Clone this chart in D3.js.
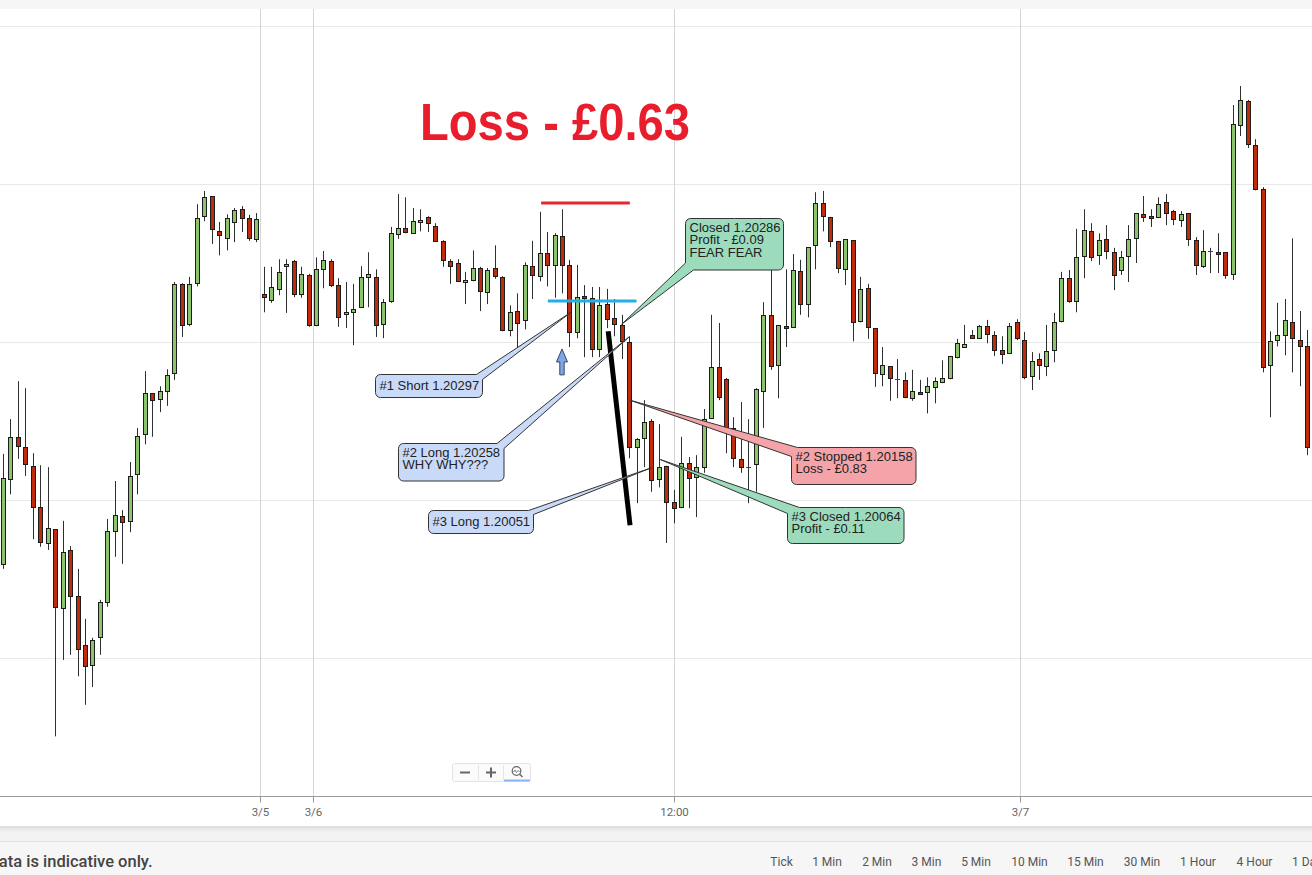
<!DOCTYPE html>
<html><head><meta charset="utf-8">
<script src="https://cdn.jsdelivr.net/npm/d3@7"></script>
<style>html,body{margin:0;padding:0;background:#fff;overflow:hidden}</style>
</head><body><svg id="c" width="1312" height="875"></svg>
<script>
// ---- data (EUR/USD 15-min candles) ----
const candleOpen=[1.19899,1.20033,1.20100,1.20084,1.20054,1.19989,1.19932,1.19954,1.19829,1.19921,1.19848,1.19770,1.19739,1.19782,1.19838,1.19951,1.19974,1.19967,1.20041,1.20104,1.20169,1.20160,1.20172,1.20201,1.20342,1.20278,1.20343,1.20449,1.20481,1.20425,1.20414,1.20440,1.20460,1.20446,1.20413,1.20326,1.20316,1.20334,1.20370,1.20378,1.20326,1.20356,1.20277,1.20365,1.20378,1.20340,1.20294,1.20297,1.20305,1.20353,1.20353,1.20278,1.20315,1.20421,1.20430,1.20422,1.20440,1.20448,1.20433,1.20410,1.20378,1.20375,1.20345,1.20348,1.20367,1.20329,1.20367,1.20353,1.20269,1.20299,1.20285,1.20370,1.20354,1.20391,1.20372,1.20418,1.20372,1.20266,1.20323,1.20320,1.20239,1.20310,1.20288,1.20277,1.20250,1.20084,1.20098,1.20125,1.20033,1.20054,1.19997,1.19989,1.20058,1.20036,1.20052,1.20130,1.20210,1.20191,1.20114,1.20065,1.20052,1.20057,1.20172,1.20293,1.20213,1.20275,1.20274,1.20362,1.20310,1.20403,1.20470,1.20448,1.20410,1.20365,1.20411,1.20283,1.20335,1.20272,1.20199,1.20212,1.20191,1.20190,1.20161,1.20171,1.20171,1.20179,1.20187,1.20193,1.20226,1.20243,1.20261,1.20256,1.20275,1.20261,1.20237,1.20232,1.20281,1.20253,1.20196,1.20223,1.20212,1.20237,1.20283,1.20351,1.20315,1.20386,1.20425,1.20388,1.20413,1.20392,1.20364,1.20386,1.20414,1.20452,1.20449,1.20448,1.20471,1.20457,1.20443,1.20454,1.20411,1.20370,1.20394,1.20392,1.20392,1.20357,1.20593,1.20631,1.20562,1.20492,1.20213,1.20253,1.20261,1.20281,1.20253,1.20244];
const candleHigh=[1.20073,1.20128,1.20188,1.20177,1.20074,1.20055,1.20052,1.19954,1.19967,1.19927,1.19891,1.19812,1.19782,1.19842,1.19970,1.20030,1.19984,1.20060,1.20114,1.20204,1.20169,1.20180,1.20207,1.20345,1.20343,1.20353,1.20468,1.20489,1.20481,1.20440,1.20452,1.20462,1.20465,1.20451,1.20454,1.20369,1.20369,1.20381,1.20381,1.20380,1.20369,1.20358,1.20384,1.20394,1.20381,1.20351,1.20345,1.20342,1.20370,1.20392,1.20365,1.20318,1.20432,1.20484,1.20479,1.20462,1.20460,1.20449,1.20438,1.20411,1.20381,1.20381,1.20361,1.20395,1.20369,1.20367,1.20403,1.20354,1.20308,1.20327,1.20376,1.20410,1.20456,1.20424,1.20422,1.20460,1.20380,1.20372,1.20340,1.20337,1.20337,1.20334,1.20318,1.20293,1.20259,1.20098,1.20158,1.20128,1.20120,1.20054,1.20016,1.20100,1.20068,1.20071,1.20144,1.20293,1.20280,1.20193,1.20131,1.20155,1.20128,1.20177,1.20313,1.20380,1.20277,1.20365,1.20389,1.20380,1.20400,1.20487,1.20489,1.20448,1.20410,1.20413,1.20411,1.20353,1.20342,1.20272,1.20242,1.20212,1.20223,1.20202,1.20206,1.20190,1.20194,1.20194,1.20221,1.20228,1.20255,1.20277,1.20269,1.20277,1.20285,1.20267,1.20259,1.20280,1.20286,1.20266,1.20234,1.20232,1.20277,1.20296,1.20361,1.20364,1.20429,1.20460,1.20438,1.20422,1.20435,1.20399,1.20394,1.20435,1.20454,1.20481,1.20460,1.20479,1.20484,1.20459,1.20457,1.20454,1.20416,1.20427,1.20399,1.20422,1.20392,1.20625,1.20655,1.20633,1.20571,1.20495,1.20267,1.20312,1.20318,1.20414,1.20299,1.20269];
const candleLow=[1.19891,1.20009,1.20065,1.20038,1.19938,1.19926,1.19921,1.19626,1.19747,1.19755,1.19721,1.19676,1.19704,1.19755,1.19831,1.19910,1.19899,1.19949,1.20009,1.20088,1.20100,1.20139,1.20149,1.20190,1.20258,1.20275,1.20338,1.20441,1.20405,1.20387,1.20395,1.20408,1.20424,1.20410,1.20408,1.20297,1.20312,1.20324,1.20296,1.20321,1.20320,1.20274,1.20275,1.20335,1.20337,1.20274,1.20272,1.20245,1.20304,1.20305,1.20258,1.20256,1.20312,1.20413,1.20422,1.20421,1.20425,1.20424,1.20410,1.20369,1.20342,1.20345,1.20310,1.20346,1.20299,1.20310,1.20350,1.20267,1.20259,1.20242,1.20270,1.20318,1.20346,1.20338,1.20320,1.20327,1.20242,1.20256,1.20226,1.20226,1.20226,1.20272,1.20259,1.20223,1.20066,1.19995,1.20052,1.20013,1.20020,1.19932,1.19963,1.19987,1.19987,1.19973,1.20043,1.20128,1.20158,1.20074,1.20052,1.20043,1.19995,1.20013,1.20114,1.20206,1.20161,1.20242,1.20272,1.20293,1.20289,1.20365,1.20425,1.20400,1.20359,1.20340,1.20251,1.20281,1.20255,1.20179,1.20180,1.20157,1.20161,1.20161,1.20157,1.20166,1.20137,1.20153,1.20185,1.20191,1.20224,1.20243,1.20256,1.20255,1.20248,1.20228,1.20215,1.20231,1.20253,1.20191,1.20174,1.20190,1.20196,1.20218,1.20281,1.20312,1.20297,1.20351,1.20378,1.20372,1.20381,1.20332,1.20356,1.20345,1.20375,1.20440,1.20432,1.20446,1.20435,1.20435,1.20432,1.20402,1.20356,1.20367,1.20359,1.20359,1.20350,1.20348,1.20576,1.20557,1.20490,1.20202,1.20131,1.20243,1.20229,1.20202,1.20180,1.20071];
const candleClose=[1.20035,1.20100,1.20085,1.20057,1.19989,1.19933,1.19956,1.19831,1.19918,1.19848,1.19764,1.19737,1.19778,1.19838,1.19951,1.19976,1.19965,1.20038,1.20101,1.20169,1.20158,1.20172,1.20198,1.20342,1.20277,1.20342,1.20446,1.20479,1.20429,1.20418,1.20446,1.20459,1.20446,1.20414,1.20444,1.20321,1.20337,1.20361,1.20373,1.20326,1.20358,1.20277,1.20365,1.20380,1.20340,1.20289,1.20297,1.20302,1.20353,1.20358,1.20277,1.20313,1.20422,1.20430,1.20424,1.20441,1.20443,1.20438,1.20410,1.20380,1.20370,1.20346,1.20348,1.20367,1.20331,1.20364,1.20354,1.20269,1.20297,1.20280,1.20372,1.20356,1.20391,1.20372,1.20419,1.20372,1.20266,1.20321,1.20320,1.20239,1.20308,1.20286,1.20278,1.20251,1.20084,1.20096,1.20123,1.20032,1.20052,1.19997,1.19987,1.20058,1.20035,1.20052,1.20128,1.20210,1.20163,1.20115,1.20066,1.20052,1.20053,1.20175,1.20293,1.20213,1.20277,1.20272,1.20364,1.20310,1.20400,1.20470,1.20449,1.20410,1.20367,1.20413,1.20281,1.20334,1.20274,1.20201,1.20213,1.20193,1.20192,1.20163,1.20172,1.20168,1.20180,1.20188,1.20193,1.20228,1.20248,1.20247,1.20256,1.20275,1.20262,1.20237,1.20231,1.20275,1.20255,1.20194,1.20220,1.20213,1.20236,1.20281,1.20351,1.20315,1.20384,1.20427,1.20384,1.20411,1.20394,1.20356,1.20384,1.20413,1.20454,1.20448,1.20446,1.20468,1.20454,1.20444,1.20452,1.20413,1.20372,1.20394,1.20394,1.20389,1.20356,1.20595,1.20633,1.20563,1.20493,1.20210,1.20251,1.20261,1.20285,1.20255,1.20244,1.20084];

const priceGrid=[1.1975,1.2000,1.2025,1.2050,1.2075];
const timeTickIndex=[34.48,41.59,90.03,136.45];
const timeTickLabel=["3/5","3/6","12:00","3/7"];

const titleText="Loss - £0.63";
const redLevel={price:1.20470,from:72.2,to:84.1};
const blueLevel={price:1.20315,from:73.1,to:85.0};
const trendLine={i0:81.2,p0:1.20267,i1:84.13,p1:1.19960};
const arrowMark={index:75,tip:1.20239,base:1.20198};

const calloutLines=[["#1 Short 1.20297"],["#2 Long 1.20258","WHY WHY???"],["#3 Long 1.20051"],["Closed 1.20286","Profit - £0.09","FEAR FEAR"],["#2 Stopped 1.20158","Loss - £0.83"],["#3 Closed 1.20064","Profit - £0.11"]];
const calloutTipIndex=[76.2,84.0,87.0,83.0,84.1,88.2];
const calloutTipPrice=[1.20297,1.20258,1.20051,1.20278,1.20158,1.20064];
const calloutKind=["entry","entry","entry","profit","loss","profit"];

const periodLabels=["Tick","1 Min","2 Min","3 Min","5 Min","10 Min","15 Min","30 Min","1 Hour","4 Hour","1 Day"];
const footerNote="Data is indicative only.";

// ---- drawing ----
const W=1312,H=875;
const svg=d3.select("#c");
const x=d3.scaleLinear().domain([0,candleOpen.length-1]).range([3,1307.3]);
const y=d3.scaleLinear().domain([1.1975,1.2075]).range([658,26]);
const axisY=796;

// top band
svg.append("rect").attr("x",0).attr("y",0).attr("width",W).attr("height",9).attr("fill","#f6f6f6");

// horizontal gridlines
svg.append("g").selectAll("line").data(priceGrid).join("line")
  .attr("x1",0).attr("x2",W)
  .attr("y1",d=>Math.round(y(d))+0.5).attr("y2",d=>Math.round(y(d))+0.5)
  .attr("stroke","#e8e8e8").attr("stroke-width",1);

// vertical gridlines
svg.append("g").selectAll("line").data(timeTickIndex).join("line")
  .attr("x1",d=>Math.round(x(d))+0.5).attr("x2",d=>Math.round(x(d))+0.5)
  .attr("y1",9).attr("y2",axisY)
  .attr("stroke","#d4d4d4").attr("stroke-width",1);

// x axis
const xAxis=d3.axisBottom(x).tickValues(timeTickIndex).tickFormat((d,i)=>timeTickLabel[i]).tickSize(6).tickSizeOuter(0);
const gx=svg.append("g").attr("transform",`translate(0,${axisY+0.5})`).call(xAxis);
gx.select(".domain").remove();
gx.selectAll(".tick line").attr("stroke","#999");
gx.selectAll(".tick text").attr("font-family","Roboto, 'Liberation Sans', sans-serif").attr("font-size",11.5).attr("fill","#666").attr("dy","0.95em");
svg.append("line").attr("x1",0).attr("x2",W).attr("y1",axisY+0.5).attr("y2",axisY+0.5).attr("stroke","#9a9a9a");

// candles
const candles=candleOpen.map((o,i)=>({i,o,h:candleHigh[i],l:candleLow[i],c:candleClose[i]}));
const gc=svg.append("g");
const cx=d=>Math.round(x(d.i));
gc.selectAll("line.wick").data(candles).join("line").attr("class","wick")
  .attr("x1",d=>cx(d)+0.5).attr("x2",d=>cx(d)+0.5)
  .attr("y1",d=>y(d.h)).attr("y2",d=>y(d.l))
  .attr("stroke","#2d3030").attr("stroke-width",1);
const isDoji=d=>Math.abs(d.o-d.c)<0.000015;
gc.selectAll("rect.body").data(candles.filter(d=>!isDoji(d))).join("rect").attr("class","body")
  .attr("x",d=>cx(d)-1.5).attr("width",4)
  .attr("y",d=>Math.round(y(Math.max(d.o,d.c)))+0.5)
  .attr("height",d=>Math.max(1,Math.round(Math.abs(y(d.o)-y(d.c)))))
  .attr("fill",d=>d.c>d.o?"#8cc46e":"#be2c0b")
  .attr("stroke","#1c1c1c").attr("stroke-width",1);
gc.selectAll("line.doji").data(candles.filter(isDoji)).join("line").attr("class","doji")
  .attr("x1",d=>cx(d)-2).attr("x2",d=>cx(d)+3)
  .attr("y1",d=>Math.round(y(d.o))+0.5).attr("y2",d=>Math.round(y(d.o))+0.5)
  .attr("stroke","#444").attr("stroke-width",1);

// level lines
svg.append("line").attr("x1",x(redLevel.from)).attr("x2",x(redLevel.to)).attr("y1",y(redLevel.price)).attr("y2",y(redLevel.price))
  .attr("stroke","#e82630").attr("stroke-width",3);
svg.append("line").attr("x1",x(blueLevel.from)).attr("x2",x(blueLevel.to)).attr("y1",y(blueLevel.price)).attr("y2",y(blueLevel.price))
  .attr("stroke","#22aee6").attr("stroke-width",3);

// black trend line
svg.append("line").attr("x1",x(trendLine.i0)).attr("y1",y(trendLine.p0)).attr("x2",x(trendLine.i1)).attr("y2",y(trendLine.p1))
  .attr("stroke","#000").attr("stroke-width",5);

// arrow
{
  const ax=x(arrowMark.index), yt=y(arrowMark.tip), yb=y(arrowMark.base);
  const hh=13, hw=5.5, sw=2.2;
  const p=`M${ax},${yt}L${ax+hw},${yt+hh}L${ax+sw},${yt+hh}L${ax+sw},${yb}L${ax-sw},${yb}L${ax-sw},${yt+hh}L${ax-hw},${yt+hh}Z`;
  svg.append("path").attr("d",p).attr("fill","#82a6e2").attr("stroke","#34476e").attr("stroke-width",1);
}

// callouts
const boxes=[
  {x:375.5,y:374.5,w:107,h:23,corner:"TR",e1:6,e2:5},
  {x:398.5,y:443.5,w:105.5,h:37.5,corner:"TR",e1:7,e2:5},
  {x:428.5,y:510.5,w:105,h:23,corner:"TR",e1:5,e2:4},
  {x:685.5,y:218.5,w:98,h:51.5,corner:"BL",e1:8,e2:7},
  {x:791.5,y:447.5,w:124.5,h:37,corner:"TL",e1:9,e2:6},
  {x:787.5,y:507.5,w:116.5,h:36,corner:"TL",e1:6,e2:12}
];
const kindFill={entry:"#c9daf8",profit:"#9cdcbd",loss:"#f4a4a9"};
function calloutPath(b,tip){
  const {x:bx,y:by,w,h,corner,e1,e2}=b, r=5;
  let p=`M${bx+w/2},${by}`;
  if(corner==="TR") p+=`L${bx+w-e1},${by}L${tip[0]},${tip[1]}L${bx+w},${by+e2}`;
  else p+=`L${bx+w-r},${by}A${r},${r} 0 0 1 ${bx+w},${by+r}`;
  p+=`L${bx+w},${by+h-r}A${r},${r} 0 0 1 ${bx+w-r},${by+h}`;
  if(corner==="BL") p+=`L${bx+e1},${by+h}L${tip[0]},${tip[1]}L${bx},${by+h-e2}`;
  else p+=`L${bx+r},${by+h}A${r},${r} 0 0 1 ${bx},${by+h-r}`;
  if(corner==="TL") p+=`L${bx},${by+e1}L${tip[0]},${tip[1]}L${bx+e2},${by}`;
  else p+=`L${bx},${by+r}A${r},${r} 0 0 1 ${bx+r},${by}`;
  return p+"Z";
}
const gcall=svg.append("g");
calloutLines.forEach((lines,k)=>{
  const b=boxes[k];
  const tip=[x(calloutTipIndex[k]),y(calloutTipPrice[k])];
  gcall.append("path").attr("d",calloutPath(b,tip)).attr("fill",kindFill[calloutKind[k]])
    .attr("stroke","#333").attr("stroke-width",1).attr("stroke-linejoin","round");
  const t=gcall.append("text").attr("font-family","'Liberation Sans', Arial, sans-serif").attr("font-size",13).attr("fill","#222");
  const first=lines.length===1?b.y+15:b.y+13;
  lines.forEach((s,j)=>t.append("tspan").attr("x",b.x+4).attr("y",first+j*12.5).text(s));
});

// title
svg.append("text").attr("x",420).attr("y",140).text(titleText)
  .attr("font-family","'Liberation Sans', Arial, sans-serif").attr("font-weight","bold").attr("font-size",51)
  .attr("fill","#e81e2c").attr("textLength",270).attr("lengthAdjust","spacingAndGlyphs");

// zoom control widget
{
  const g=svg.append("g");
  g.append("rect").attr("x",452.5).attr("y",763.5).attr("width",78).attr("height",18).attr("rx",2)
    .attr("fill","#fbfbfb").attr("stroke","#e3e3e3");
  g.append("line").attr("x1",478.5).attr("x2",478.5).attr("y1",765).attr("y2",780).attr("stroke","#e6e6e6");
  g.append("line").attr("x1",503.5).attr("x2",503.5).attr("y1",765).attr("y2",780).attr("stroke","#e6e6e6");
  g.append("line").attr("x1",460).attr("x2",470).attr("y1",772.5).attr("y2",772.5).attr("stroke","#666").attr("stroke-width",2);
  g.append("line").attr("x1",486).attr("x2",496).attr("y1",772.5).attr("y2",772.5).attr("stroke","#666").attr("stroke-width",2);
  g.append("line").attr("x1",491).attr("x2",491).attr("y1",767.5).attr("y2",777.5).attr("stroke","#666").attr("stroke-width",2);
  g.append("circle").attr("cx",516.5).attr("cy",771).attr("r",4.3).attr("fill","none").attr("stroke","#666").attr("stroke-width",1.2);
  g.append("line").attr("x1",519.5).attr("x2",522.5).attr("y1",774).attr("y2",777).attr("stroke","#666").attr("stroke-width",1.4);
  g.append("path").attr("d","M513.5,772L515,770L516.5,772.5L518,770.5L519.5,771.5").attr("fill","none").attr("stroke","#666").attr("stroke-width",0.8);
  g.append("line").attr("x1",504).attr("x2",530).attr("y1",780.5).attr("y2",780.5).attr("stroke","#8ab4f8").attr("stroke-width",2);
}

// footer
const defs=svg.append("defs");
const grad=defs.append("linearGradient").attr("id","sh").attr("x1",0).attr("x2",0).attr("y1",0).attr("y2",1);
grad.append("stop").attr("offset","0%").attr("stop-color","#dcdcdc");
grad.append("stop").attr("offset","100%").attr("stop-color","#f3f3f3");
svg.append("rect").attr("x",0).attr("y",826).attr("width",W).attr("height",H-826).attr("fill","#f3f3f3");
svg.append("rect").attr("x",0).attr("y",826).attr("width",W).attr("height",6).attr("fill","url(#sh)");
svg.append("rect").attr("x",0).attr("y",842).attr("width",W).attr("height",H-842).attr("fill","#f6f6f6");
svg.append("line").attr("x1",0).attr("x2",W).attr("y1",841.5).attr("y2",841.5).attr("stroke","#e2e2e2");
svg.append("text").attr("x",152.5).attr("y",866.5).attr("text-anchor","end").text(footerNote)
  .attr("font-family","Roboto, 'Liberation Sans', sans-serif").attr("font-weight",500).attr("font-size",16.5).attr("fill","#444");

const periodCenters=[781.6,827,877,926.4,976,1029.5,1085.5,1142,1198,1254.5,1310];
svg.append("g").selectAll("text").data(periodLabels).join("text")
  .attr("x",(d,i)=>i===periodLabels.length-1?1292:periodCenters[i])
  .attr("text-anchor",(d,i)=>i===periodLabels.length-1?"start":"middle")
  .attr("y",866).text(d=>d)
  .attr("font-family","Roboto, 'Liberation Sans', sans-serif").attr("font-size",12).attr("fill","#555");
</script></body></html>
